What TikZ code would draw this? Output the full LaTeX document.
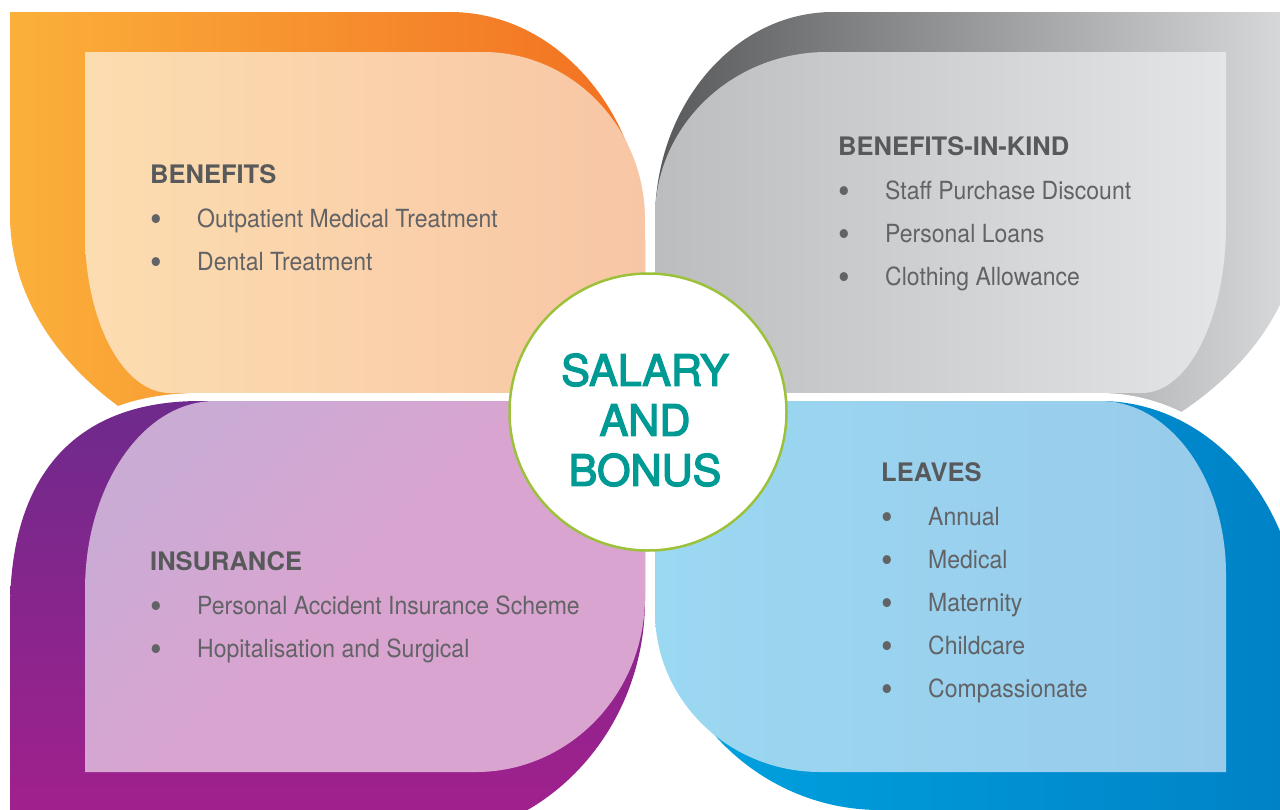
\documentclass[tikz,border=0pt]{standalone}
\usepackage{fontspec}
\setmainfont{TeX Gyre Heros}
\newfontfamily\itemfamily{TeX Gyre Heros}[FakeStretch=0.92]
\newfontfamily\hubfamily{TeX Gyre Heros}[FakeBold=3]
\usepackage{tikz}
\usetikzlibrary{positioning}
\definecolor{orangeA}{HTML}{FBB03B}
\definecolor{orangeB}{HTML}{F26F21}
\definecolor{peachA}{HTML}{FCDDB0}
\definecolor{peachB}{HTML}{F8C6A5}
\definecolor{grayA}{HTML}{58595B}
\definecolor{grayB}{HTML}{DADBDC}
\definecolor{silverA}{HTML}{BCBDBF}
\definecolor{silverB}{HTML}{E4E5E6}
\definecolor{purpleA}{HTML}{6E2A8C}
\definecolor{purpleB}{HTML}{A4208D}
\definecolor{lilacA}{HTML}{C9ABD4}
\definecolor{lilacB}{HTML}{DAA4D0}
\definecolor{blueA}{HTML}{00A3E0}
\definecolor{blueB}{HTML}{0081C6}
\definecolor{skyA}{HTML}{9BD8F2}
\definecolor{skyB}{HTML}{98CBEA}
\definecolor{ringgreen}{HTML}{9CC13B}
\definecolor{teal}{HTML}{009A95}
\definecolor{headgray}{HTML}{58595B}
\definecolor{itemgray}{HTML}{626366}
\newcommand\bul{\makebox[47pt][l]{\raisebox{-4pt}{\fontsize{36}{36}\selectfont\textbullet}}}
\tikzset{cutout/.style = {preaction={draw=white, line width=16pt}}}
\tikzset{heading/.style = {font=\bfseries\fontsize{25.5}{30}\selectfont, text=headgray, inner sep=0pt, text height=19pt, text depth=5pt, anchor=base west}}
\tikzset{item/.style = {font=\itemfamily\fontsize{25}{30}\selectfont, text=itemgray, inner sep=0pt, text height=18pt, text depth=5pt}}
\tikzset{first item/.style = {below=21pt of #1.south west, anchor=north west}}
\tikzset{next item/.style = {below=19.5pt of #1.south west, anchor=north west}}
\tikzset{hub/.style = {circle, minimum size=277pt, inner sep=0pt, fill=white, draw=ringgreen, line width=2.5pt}}
\tikzset{hubtext/.style = {align=center, text=teal, inner sep=0pt, font=\hubfamily\fontsize{43}{50}\selectfont}}

\begin{document}
\begin{tikzpicture}[x=1pt, y=-1pt]
\fill[white] (0,0) rectangle (1280,809);
\useasboundingbox (0,0) rectangle (1280,809);
\clip (0,0) rectangle (1280,809);

% benefits
\path[left color=orangeA, right color=orangeB] (10,215) -- (10,12) -- (450,12)
  arc[start angle=270, end angle=360, x radius=195, y radius=228] -- (645,395) -- (392,489)
  arc[start angle=90, end angle=180, x radius=382, y radius=274] -- cycle;
\path[left color=peachA, right color=peachB] (85,233) -- (85,52) -- (483,52)
  arc[start angle=270, end angle=360, x radius=162, y radius=168] -- (645,393) -- (170,393)
  arc[start angle=90, end angle=180, x radius=85, y radius=160] -- cycle;

% benefits in kind
\path[left color=grayA, right color=grayB] (655,220)
  arc[start angle=180, end angle=270, x radius=178, y radius=208] -- (1300,12) -- (1300,220)
  arc[start angle=0, end angle=90, x radius=400, y radius=270] -- (655,490) -- cycle;
\path[left color=silverA, right color=silverB] (655,217)
  arc[start angle=180, end angle=270, x radius=172, y radius=165] -- (1226,52) -- (1226,225)
  arc[start angle=0, end angle=90, x radius=84, y radius=168] -- (655,393) -- cycle;

% insurance
\path[cutout, top color=purpleA, bottom color=purpleB] (10,610)
  .. controls (10,470) and (80,401) .. (200,401) -- (645,401) -- (645,600)
  arc[start angle=0, end angle=90, x radius=225, y radius=239] -- (10,839) -- cycle;
\path[top color=lilacA, bottom color=lilacB, middle color=lilacB, shading angle=45] (85,590)
  arc[start angle=180, end angle=270, x radius=130, y radius=189] -- (645,401) -- (645,597)
  arc[start angle=0, end angle=90, x radius=169, y radius=175] -- (85,772) -- cycle;

% leaves
\path[cutout, left color=blueA, right color=blueB] (656,580) -- (656,401) -- (1100,401)
  arc[start angle=270, end angle=360, x radius=200, y radius=231] -- (1300,810) -- (880,810)
  arc[start angle=90, end angle=180, x radius=224, y radius=230] -- cycle;
\path[left color=skyA, right color=skyB] (655,612) -- (655,401) -- (1100,401)
  arc[start angle=270, end angle=360, x radius=126, y radius=173] -- (1226,772) -- (820,772)
  arc[start angle=90, end angle=180, x radius=165, y radius=160] -- cycle;

\node[hub] (hub) at (648,412) {};
\node[hubtext] (salary) at (645,420) {SALARY\\AND\\BONUS};

\node[heading] (benefits) at (150,183) {BENEFITS};
\node[item, first item=benefits] (outpatient) {\bul Outpatient Medical Treatment};
\node[item, next item=outpatient] (dental) {\bul Dental Treatment};

\node[heading] (inkind) at (838,155) {BENEFITS-IN-KIND};
\node[item, first item=inkind] (discount) {\bul Staff Purchase Discount};
\node[item, next item=discount] (loans) {\bul Personal Loans};
\node[item, next item=loans] (clothing) {\bul Clothing Allowance};

\node[heading] (insurance) at (150,570) {INSURANCE};
\node[item, first item=insurance] (accident) {\bul Personal Accident Insurance Scheme};
\node[item, next item=accident] (surgical) {\bul Hopitalisation and Surgical};

\node[heading] (leaves) at (881,481) {LEAVES};
\node[item, first item=leaves] (annual) {\bul Annual};
\node[item, next item=annual] (medical) {\bul Medical};
\node[item, next item=medical] (maternity) {\bul Maternity};
\node[item, next item=maternity] (childcare) {\bul Childcare};
\node[item, next item=childcare] (compassionate) {\bul Compassionate};
\end{tikzpicture}
\end{document}
